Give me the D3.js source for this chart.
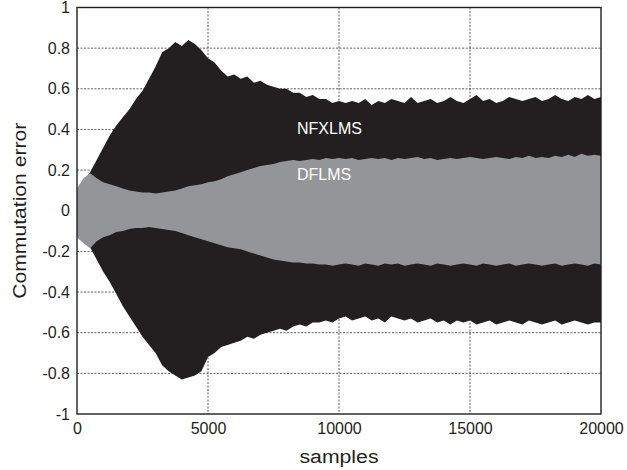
<!DOCTYPE html>
<html>
<head>
<meta charset="utf-8">
<script src="https://cdn.jsdelivr.net/npm/d3@7/dist/d3.min.js"></script>
<style>
  html, body { margin: 0; padding: 0; background: #fff; }
  svg { display: block; }
  text { font-family: "Liberation Sans", Arial, Helvetica, sans-serif; fill: #231f20; }
</style>
</head>
<body>
<svg id="chart" width="627" height="470"></svg>
<script>
// ---- data ----
const sampleStep = 250;                 // envelope read every 250 samples
const xTicks = [0, 5000, 10000, 15000, 20000];
const yTicks = [-1, -0.8, -0.6, -0.4, -0.2, 0, 0.2, 0.4, 0.6, 0.8, 1];
const seriesNames = ["NFXLMS", "DFLMS"];

// NFXLMS envelope (black)
const nfxUpper = [0.08, 0.14, 0.19, 0.25, 0.31, 0.37, 0.42, 0.46, 0.50, 0.55,
  0.59, 0.65, 0.71, 0.78, 0.80, 0.83, 0.81, 0.84, 0.82, 0.79,
  0.75, 0.73, 0.69, 0.66, 0.67, 0.65, 0.66, 0.63, 0.64, 0.62,
  0.61, 0.60, 0.60, 0.58, 0.58, 0.56, 0.57, 0.55, 0.55, 0.53,
  0.54, 0.53, 0.54, 0.53, 0.55, 0.52, 0.54, 0.53, 0.55, 0.54,
  0.53, 0.56, 0.53, 0.54, 0.55, 0.53, 0.54, 0.56, 0.54, 0.53,
  0.55, 0.57, 0.54, 0.55, 0.53, 0.54, 0.56, 0.55, 0.54, 0.55,
  0.56, 0.54, 0.55, 0.57, 0.55, 0.54, 0.56, 0.55, 0.57, 0.55, 0.56];
const nfxLower = [-0.11, -0.15, -0.18, -0.24, -0.30, -0.35, -0.41, -0.47, -0.52, -0.57,
  -0.62, -0.66, -0.70, -0.76, -0.79, -0.81, -0.83, -0.82, -0.81, -0.79,
  -0.72, -0.70, -0.67, -0.66, -0.65, -0.64, -0.62, -0.63, -0.61, -0.60,
  -0.59, -0.58, -0.59, -0.57, -0.56, -0.57, -0.55, -0.55, -0.54, -0.55,
  -0.53, -0.52, -0.54, -0.53, -0.52, -0.54, -0.53, -0.55, -0.52, -0.53,
  -0.54, -0.53, -0.55, -0.54, -0.53, -0.55, -0.54, -0.56, -0.54, -0.55,
  -0.54, -0.56, -0.55, -0.54, -0.56, -0.55, -0.54, -0.55, -0.56, -0.54,
  -0.55, -0.56, -0.55, -0.54, -0.56, -0.55, -0.54, -0.55, -0.56, -0.55, -0.55];

// DFLMS envelope (grey)
const dfUpper = [0.11, 0.16, 0.185, 0.16, 0.14, 0.13, 0.12, 0.11, 0.10, 0.095,
  0.09, 0.09, 0.085, 0.09, 0.095, 0.10, 0.11, 0.12, 0.125, 0.13,
  0.14, 0.145, 0.155, 0.17, 0.18, 0.19, 0.20, 0.21, 0.22, 0.225,
  0.23, 0.24, 0.245, 0.25, 0.245, 0.25, 0.255, 0.25, 0.26, 0.255,
  0.26, 0.255, 0.26, 0.25, 0.255, 0.26, 0.255, 0.26, 0.25, 0.26,
  0.255, 0.26, 0.265, 0.255, 0.26, 0.25, 0.255, 0.26, 0.255, 0.26,
  0.265, 0.26, 0.255, 0.26, 0.265, 0.26, 0.255, 0.265, 0.26, 0.27,
  0.26, 0.265, 0.26, 0.27, 0.265, 0.275, 0.265, 0.28, 0.27, 0.275, 0.27];
const dfLower = [-0.13, -0.16, -0.185, -0.15, -0.13, -0.12, -0.105, -0.10, -0.09, -0.085,
  -0.085, -0.08, -0.085, -0.09, -0.095, -0.10, -0.11, -0.12, -0.13, -0.14,
  -0.15, -0.16, -0.17, -0.18, -0.185, -0.19, -0.20, -0.21, -0.22, -0.23,
  -0.24, -0.245, -0.25, -0.255, -0.255, -0.26, -0.26, -0.265, -0.265, -0.27,
  -0.265, -0.26, -0.265, -0.27, -0.26, -0.265, -0.27, -0.26, -0.265, -0.26,
  -0.27, -0.265, -0.26, -0.265, -0.27, -0.26, -0.265, -0.27, -0.265, -0.26,
  -0.265, -0.27, -0.26, -0.265, -0.27, -0.265, -0.26, -0.27, -0.265, -0.26,
  -0.265, -0.27, -0.265, -0.26, -0.27, -0.265, -0.26, -0.265, -0.27, -0.26, -0.265];

// ---- layout ----
const W = 627, H = 470;
const margin = { left: 77, top: 7.5, right: 26, bottom: 56 };
const iw = W - margin.left - margin.right;
const ih = H - margin.top - margin.bottom;

const svg = d3.select("#chart");
const g = svg.append("g").attr("transform", `translate(${margin.left},${margin.top})`);

const x = d3.scaleLinear().domain([0, 20000]).range([0, iw]);
const y = d3.scaleLinear().domain([-1, 1]).range([ih, 0]);

// grid
const gridColor = "#333";
g.append("g").selectAll("line.gx").data(xTicks.slice(1, -1)).join("line")
  .attr("x1", d => x(d)).attr("x2", d => x(d)).attr("y1", 0).attr("y2", ih)
  .attr("stroke", gridColor).attr("stroke-width", 0.8).attr("stroke-dasharray", "2,1.5");
g.append("g").selectAll("line.gy").data(yTicks.slice(1, -1)).join("line")
  .attr("y1", d => y(d)).attr("y2", d => y(d)).attr("x1", 0).attr("x2", iw)
  .attr("stroke", gridColor).attr("stroke-width", 0.8).attr("stroke-dasharray", "2,1.5");

function series(upper, lower) {
  return upper.map((u, i) => ({ s: i * sampleStep, u: u, l: lower[i] }));
}
const area = d3.area()
  .x(d => x(d.s)).y0(d => y(d.l)).y1(d => y(d.u))
  .curve(d3.curveLinear);

g.append("path").datum(series(nfxUpper, nfxLower))
  .attr("d", area).attr("fill", "#231f20");
g.append("path").datum(series(dfUpper, dfLower))
  .attr("d", area).attr("fill", "#939598");

// axes (box)
const axisColor = "#231f20";
g.append("rect").attr("x", 0).attr("y", 0).attr("width", iw).attr("height", ih)
  .attr("fill", "none").attr("stroke", axisColor).attr("stroke-width", 1.4);

const fontFam = '"Liberation Sans", Arial, sans-serif';
const xAxis = d3.axisBottom(x).tickValues(xTicks).tickSize(0).tickPadding(9)
  .tickFormat(d3.format("d"));
const gx = g.append("g").attr("transform", `translate(0,${ih})`).call(xAxis);
gx.select(".domain").remove();
gx.selectAll("text").attr("font-size", 16).attr("fill", "#231f20")
  .style("font-family", fontFam);

const yAxis = d3.axisLeft(y).tickValues(yTicks).tickSize(0).tickPadding(7)
  .tickFormat(d => String(+d.toFixed(1)));
const gy = g.append("g").call(yAxis);
gy.select(".domain").remove();
gy.selectAll("text").attr("font-size", 16).attr("fill", "#231f20")
  .style("font-family", fontFam);

// axis titles
svg.append("text").attr("x", margin.left + iw / 2).attr("y", 463)
  .attr("text-anchor", "middle").attr("font-size", 18)
  .attr("textLength", 79).attr("lengthAdjust", "spacingAndGlyphs")
  .text("samples");
svg.append("text")
  .attr("transform", `translate(26,${margin.top + ih / 2}) rotate(-90)`)
  .attr("text-anchor", "middle").attr("font-size", 18)
  .attr("textLength", 176).attr("lengthAdjust", "spacingAndGlyphs")
  .text("Commutation error");

// series labels
svg.append("text").attr("x", 297).attr("y", 134).attr("font-size", 16)
  .style("fill", "#ffffff").text(seriesNames[0]);
svg.append("text").attr("x", 297).attr("y", 180).attr("font-size", 16)
  .style("fill", "#ffffff").text(seriesNames[1]);
</script>
</body>
</html>
